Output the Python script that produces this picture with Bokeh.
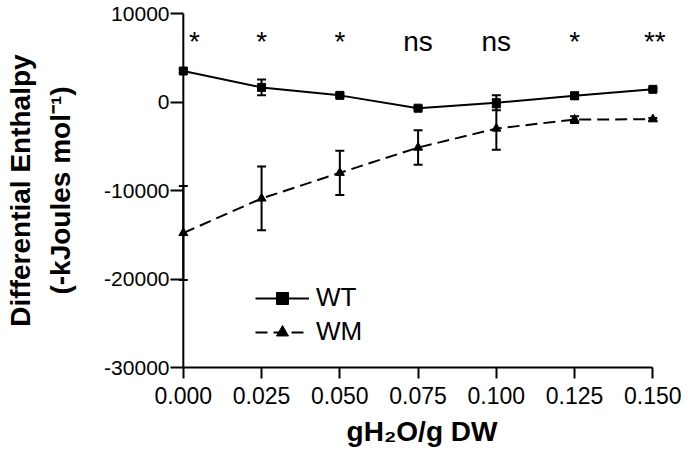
from bokeh.plotting import figure
from bokeh.models import (Range1d, LinearAxis, FixedTicker, Whisker, ColumnDataSource,
                          Legend, LegendItem, LabelSet, Span, TeeHead)
from bokeh.core.properties import value
from bokeh.embed import file_html
from bokeh.resources import INLINE

# ---- data ----
x_vals = [0.0, 0.025, 0.05, 0.075, 0.1, 0.125, 0.15]
wt_mean = [3500, 1650, 750, -700, -80, 700, 1430]
wt_err = [200, 900, 200, 150, 850, 350, 150]
wm_mean = [-14800, -10900, -8000, -5150, -3000, -1980, -1950]
wm_err = [5300, 3600, 2500, 1950, 2400, 380, 150]
sig_labels = ["*", "*", "*", "ns", "ns", "*", "**"]
sig_y = [5800] * 7
sig_xoff = [11, 0, 0, 0, 0, 0, 2]
x_ticks = [0.0, 0.025, 0.05, 0.075, 0.1, 0.125, 0.15]
x_tick_labels = ["0.000", "0.025", "0.050", "0.075", "0.100", "0.125", "0.150"]
y_ticks = [-30000, -20000, -10000, 0, 10000]
y_tick_labels = ["-30000", "-20000", "-10000", "0", "10000"]
series_names = ["WT", "WM"]

FONT = "Liberation Sans"

p = figure(width=684, height=450,
           x_range=Range1d(-0.0025, 0.155), y_range=Range1d(-30000, 10000),
           output_backend="svg", toolbar_location=None,
           min_border_left=175, min_border_right=16, min_border_top=13, min_border_bottom=83)
p.outline_line_color = None
p.grid.visible = False
p.background_fill_color = "white"

# x axis
xa = p.xaxis[0]
xa.ticker = FixedTicker(ticks=x_ticks)
xa.major_label_overrides = {t: l for t, l in zip(x_ticks, x_tick_labels)}
xa.bounds = (0.0, 0.15)
xa.axis_line_width = 2
xa.axis_line_color = "black"
xa.major_tick_line_width = 2
xa.major_tick_out = 11
xa.major_tick_in = 0
xa.minor_tick_line_color = None
xa.major_label_text_font = FONT
xa.major_label_text_font_size = "23px"
xa.major_label_text_color = "black"
xa.major_label_standoff = 8
xa.axis_label = "gH\u2082O/g DW"
xa.axis_label_text_font = FONT
xa.axis_label_text_font_style = "bold"
xa.axis_label_text_font_size = "28px"
xa.axis_label_text_color = "black"
xa.axis_label_standoff = 9

# y axis
ya = p.yaxis[0]
ya.ticker = FixedTicker(ticks=y_ticks)
ya.major_label_overrides = {t: l for t, l in zip(y_ticks, y_tick_labels)}
ya.axis_line_color = None
ya.major_tick_line_width = 2
ya.major_tick_out = 5
ya.major_tick_in = 8
ya.minor_tick_line_color = None
ya.major_label_text_font = FONT
ya.major_label_text_font_size = "21px"
ya.major_label_text_color = "black"
ya.major_label_standoff = 1
ya.axis_label = "(-kJoules mol\u207b\u00b9)"
ya.axis_label_text_font = FONT
ya.axis_label_text_font_style = "bold"
ya.axis_label_text_font_size = "28px"
ya.axis_label_text_color = "black"
ya.axis_label_standoff = 25

ya2 = LinearAxis(axis_label="Differential Enthalpy", ticker=FixedTicker(ticks=[]),
                 axis_line_color=None, major_tick_line_color=None, minor_tick_line_color=None,
                 major_tick_out=0, major_tick_in=0, major_label_text_font_size="0px",
                 axis_label_text_font=FONT, axis_label_text_font_style="bold",
                 axis_label_text_font_size="28px", axis_label_text_color="black",
                 axis_label_standoff=7)
p.add_layout(ya2, "left")

# y axis line at x = 0
p.add_layout(Span(location=0, dimension="height", line_color="black", line_width=2))

# error bars
wt_src = ColumnDataSource(dict(x=x_vals, y=wt_mean,
                               upper=[m + e for m, e in zip(wt_mean, wt_err)],
                               lower=[m - e for m, e in zip(wt_mean, wt_err)]))
wm_src = ColumnDataSource(dict(x=x_vals, y=wm_mean,
                               upper=[m + e for m, e in zip(wm_mean, wm_err)],
                               lower=[m - e for m, e in zip(wm_mean, wm_err)]))
for src in (wt_src, wm_src):
    p.add_layout(Whisker(source=src, base="x", upper="upper", lower="lower",
                         line_width=2, line_color="black",
                         upper_head=TeeHead(size=9, line_width=2, line_color="black"),
                         lower_head=TeeHead(size=9, line_width=2, line_color="black")))

wt_line = p.line("x", "y", source=wt_src, line_width=2, line_color="black")
wt_pts = p.scatter("x", "y", source=wt_src, marker="square", size=8, color="black")
wm_line = p.line("x", "y", source=wm_src, line_width=2, line_color="black", line_dash="12 6")
wm_pts = p.scatter("x", "y", source=wm_src, marker="triangle", size=9, color="black")

legend = Legend(items=[LegendItem(label=series_names[0], renderers=[wt_line, wt_pts]),
                       LegendItem(label=series_names[1], renderers=[wm_line, wm_pts])],
                location=(80, 20), padding=0, margin=0, spacing=3,
                glyph_width=54, glyph_height=30, label_height=30, label_standoff=7,
                label_text_font=FONT, label_text_font_size="26px", label_text_color="black",
                border_line_color=None, background_fill_alpha=0)
p.add_layout(legend)

sig_src = ColumnDataSource(dict(x=x_vals, y=sig_y, text=sig_labels, xoff=sig_xoff))
p.add_layout(LabelSet(source=sig_src, x="x", y="y", text="text", x_offset="xoff",
                      text_align="center", text_baseline="alphabetic",
                      text_font=value(FONT), text_font_size=value("28px"),
                      text_color="black"))

open("out.html", "w").write(file_html(p, INLINE))
